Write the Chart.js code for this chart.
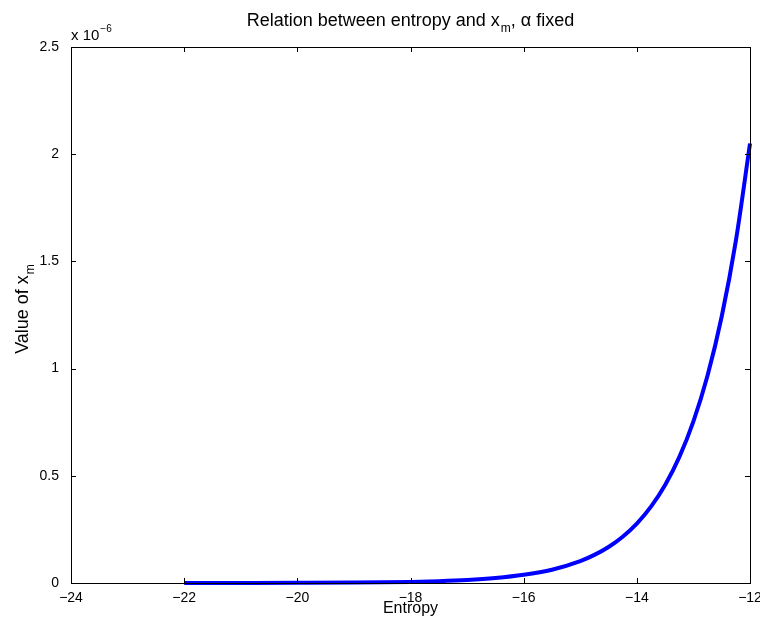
<!DOCTYPE html>
<html>
<head>
<meta charset="utf-8">
<script src="https://cdn.jsdelivr.net/npm/chart.js@4.4.0/dist/chart.umd.min.js"></script>
<style>
  html, body { margin: 0; padding: 0; background: #fff; }
  #wrap { width: 760px; height: 623px; }
</style>
</head>
<body>
<div id="wrap"><canvas id="chart" width="760" height="623"></canvas></div>
<script>
// Entropy values and x_m values (in units of 1e-6)
const entropy = [-22, -21, -20, -19, -18, -17.5, -17, -16.5, -16, -15.5, -15,
    -14.75, -14.5, -14.25, -14, -13.75, -13.5, -13.25, -13, -12.75, -12.5, -12.25, -12];
const xmValuesE6 = [0.0001, 0.0003, 0.0007, 0.0019, 0.005, 0.0084, 0.0138, 0.023, 0.038, 0.062, 0.102,
    0.131, 0.168, 0.216, 0.277, 0.356, 0.457, 0.587, 0.754, 0.968, 1.243, 1.596, 2.05];
const xTicks = [-24, -22, -20, -18, -16, -14, -12];
const yTicks = [0, 0.5, 1, 1.5, 2, 2.5];

const FONT = '"Liberation Sans", Arial, Helvetica, sans-serif';

// draws "main" + subscript, starting at x (left aligned)
function subText(ctx, main, sub, x, y, size, subSize, drop) {
    ctx.font = size + 'px ' + FONT;
    const w = ctx.measureText(main).width;
    ctx.fillText(main, x, y);
    ctx.font = subSize + 'px ' + FONT;
    ctx.fillText(sub, x + w + 1, y + drop);
    return w + 1 + ctx.measureText(sub).width;
}

function textWidth(ctx, str, size) {
    ctx.font = size + 'px ' + FONT;
    return ctx.measureText(str).width;
}

// MATLAB-like box, inward ticks and text with sub/superscripts
const matlabFrame = {
    id: 'matlabFrame',
    afterDraw(chart) {
        const ctx = chart.ctx;
        const a = chart.chartArea;
        const xs = chart.scales.x, ys = chart.scales.y;
        const tl = 5;
        ctx.save();
        ctx.strokeStyle = '#000';
        ctx.lineWidth = 1;
        ctx.strokeRect(Math.round(a.left) + 0.5, Math.round(a.top) + 0.5,
            Math.round(a.right - a.left), Math.round(a.bottom - a.top));
        ctx.beginPath();
        xTicks.forEach(v => {
            const px = Math.round(xs.getPixelForValue(v)) + 0.5;
            ctx.moveTo(px, a.bottom); ctx.lineTo(px, a.bottom - tl);
            ctx.moveTo(px, a.top); ctx.lineTo(px, a.top + tl);
        });
        yTicks.forEach(v => {
            const py = Math.round(ys.getPixelForValue(v)) + 0.5;
            ctx.moveTo(a.left, py); ctx.lineTo(a.left + tl, py);
            ctx.moveTo(a.right, py); ctx.lineTo(a.right - tl, py);
        });
        ctx.stroke();

        ctx.fillStyle = '#000';
        ctx.textBaseline = 'alphabetic';
        ctx.textAlign = 'left';

        // title
        const cx = (a.left + a.right) / 2;
        const t1 = 'Relation between entropy and x';
        const t2 = ', \u03b1 fixed';
        const total = textWidth(ctx, t1, 18) + 1 + textWidth(ctx, 'm', 12) + textWidth(ctx, t2, 18);
        const x0 = cx - total / 2;
        const wsub = subText(ctx, t1, 'm', x0, 26, 18, 12, 6);
        ctx.font = '18px ' + FONT;
        ctx.fillText(t2, x0 + wsub, 26);

        // exponent label
        ctx.font = '15px ' + FONT;
        ctx.fillText('x 10', a.left, 40);
        const we = ctx.measureText('x 10').width;
        ctx.font = '10px ' + FONT;
        ctx.fillText('\u22126', a.left + we + 1, 32);

        // x axis title
        ctx.font = '16px ' + FONT;
        ctx.textAlign = 'center';
        ctx.fillText('Entropy', cx, 613);

        // y axis title
        ctx.textAlign = 'left';
        ctx.translate(28, 309);
        ctx.rotate(-Math.PI / 2);
        const ytot = textWidth(ctx, 'Value of x', 18) + 1 + textWidth(ctx, 'm', 12);
        subText(ctx, 'Value of x', 'm', -ytot / 2, 0, 18, 12, 6);
        ctx.restore();
    }
};

new Chart(document.getElementById('chart').getContext('2d'), {
    type: 'line',
    data: {
        datasets: [{
            data: entropy.map((e, i) => ({ x: e, y: xmValuesE6[i] })),
            borderColor: '#0000ff',
            borderWidth: 4,
            pointRadius: 0,
            fill: false,
            cubicInterpolationMode: 'monotone',
            clip: 4
        }]
    },
    options: {
        responsive: false,
        animation: false,
        devicePixelRatio: 1,
        layout: { padding: { top: 47, right: 10, left: 0, bottom: 0 } },
        plugins: {
            legend: { display: false },
            tooltip: { enabled: false },
            title: { display: false }
        },
        scales: {
            x: {
                type: 'linear',
                min: -24,
                max: -12,
                afterFit: (s) => { s.height = 40; s.paddingLeft = 0; s.paddingRight = 0; },
                afterBuildTicks: (s) => { s.ticks = xTicks.map(v => ({ value: v })); },
                grid: { display: false },
                border: { display: false },
                ticks: {
                    color: '#000',
                    padding: -1,
                    font: { family: FONT, size: 14 },
                    callback: (v) => String(v).replace('-', '\u2212')
                }
            },
            y: {
                type: 'linear',
                min: 0,
                max: 2.5,
                afterFit: (s) => { s.width = 71; s.paddingTop = 0; s.paddingBottom = 0; },
                afterBuildTicks: (s) => { s.ticks = yTicks.map(v => ({ value: v })); },
                grid: { display: false },
                border: { display: false },
                ticks: {
                    color: '#000',
                    padding: 4,
                    font: { family: FONT, size: 14 },
                    callback: (v) => String(v)
                }
            }
        }
    },
    plugins: [matlabFrame]
});
</script>
</body>
</html>
